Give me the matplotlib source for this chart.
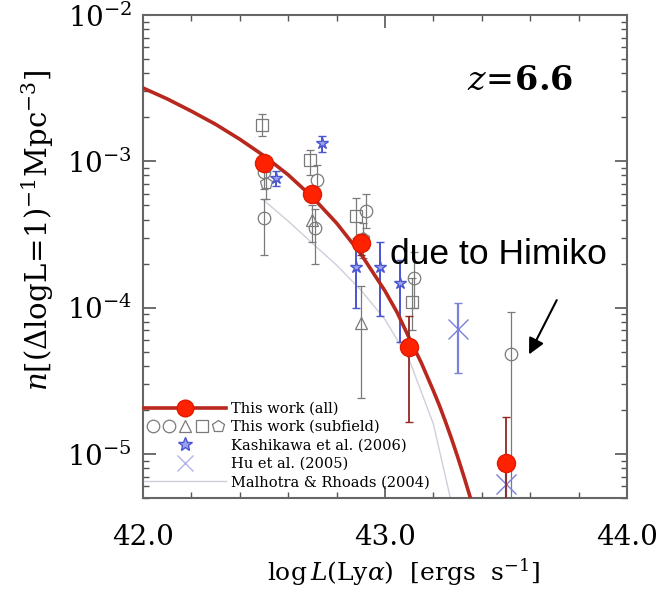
import numpy as np
import matplotlib.pyplot as plt
from matplotlib.legend_handler import HandlerTuple
from matplotlib.lines import Line2D
from matplotlib.ticker import MultipleLocator, FixedLocator, LogLocator, NullFormatter, FormatStrFormatter

plt.rcParams['font.family'] = 'DejaVu Serif'
plt.rcParams['mathtext.fontset'] = 'dejavuserif'

# --- this work (all), red points ---
all_x = [42.5, 42.7, 42.9, 43.1, 43.5]
all_y = [9.7e-4, 6.0e-4, 2.75e-4, 5.4e-5, 8.7e-6]
all_lo = [8.7e-4, 5.3e-4, 2.3e-4, 1.66e-5, 1e-7]
all_hi = [1.08e-3, 6.8e-4, 3.2e-4, 8.7e-5, 1.8e-5]

# schechter fit
fit_x = [42.0, 42.1, 42.2, 42.3, 42.4, 42.5, 42.6, 42.7, 42.8, 42.9, 43.0,
         43.05, 43.1, 43.15, 43.2, 43.225, 43.25, 43.275, 43.3, 43.325, 43.35, 43.375, 43.4]
fit_y = [3.17e-3, 2.67e-3, 2.2e-3, 1.79e-3, 1.415e-3, 1.09e-3, 8.08e-4, 5.69e-4,
         3.78e-4, 2.33e-4, 1.30e-4, 9.28e-5, 6.2e-5, 4.2e-5, 2.7e-5, 2.14e-5,
         1.66e-5, 1.27e-5, 9.57e-6, 7.1e-6, 5.2e-6, 3.73e-6, 2.64e-6]

# --- this work (subfields), gray open symbols ---
circ_x = [42.50, 42.50, 42.72, 42.71, 42.92, 43.12, 43.52]
circ_y = [8.5e-4, 4.1e-4, 7.4e-4, 3.5e-4, 4.6e-4, 1.6e-4, 4.8e-5]
circ_lo = [6.5e-4, 2.3e-4, 5.8e-4, 2.0e-4, 3.5e-4, 1.0e-4, 1e-7]
circ_hi = [1.05e-3, 5.5e-4, 9.4e-4, 4.7e-4, 6.0e-4, 2.4e-4, 9.3e-5]

sq_x = [42.49, 42.69, 42.88, 43.11]
sq_y = [1.78e-3, 1.02e-3, 4.2e-4, 1.1e-4]
sq_lo = [1.48e-3, 8.0e-4, 3.0e-4, 7.0e-5]
sq_hi = [2.1e-3, 1.2e-3, 5.6e-4, 1.6e-4]

tri_x = [42.70, 42.90]
tri_y = [4.0e-4, 7.9e-5]
tri_lo = [2.8e-4, 2.4e-5]
tri_hi = [5.0e-4, 1.4e-4]

pent_x = [42.51, 42.91]
pent_y = [7.1e-4, 3.0e-4]
pent_lo = [5.5e-4, 2.2e-4]
pent_hi = [8.5e-4, 3.8e-4]

# --- Kashikawa et al. (2006) ---
kas_x = [42.55, 42.74, 42.88, 42.98, 43.06]
kas_y = [7.7e-4, 1.33e-3, 1.9e-4, 1.9e-4, 1.48e-4]
kas_lo = [6.8e-4, 1.15e-3, 1.0e-4, 8.7e-5, 5.8e-5]
kas_hi = [8.6e-4, 1.5e-3, 2.8e-4, 2.8e-4, 2.1e-4]

# --- Hu et al. (2005) ---
hu_x = [43.30, 43.50]
hu_y = [7.1e-5, 6.2e-6]
hu_lo = [3.55e-5, 1e-7]
hu_hi = [1.07e-4, 8.0e-6]

# --- Malhotra & Rhoads (2004) ---
mr_x = [42.5, 42.6, 42.7, 42.8, 42.9, 43.0, 43.1, 43.2, 43.27, 43.3]
mr_y = [5.4e-4, 3.9e-4, 2.75e-4, 1.95e-4, 1.32e-4, 8.3e-5, 4.4e-5, 1.6e-5, 5.0e-6, 2.5e-6]


def yerr(y, lo, hi):
    y = np.array(y); return [y - np.array(lo), np.array(hi) - y]


fig = plt.figure(figsize=(6.67, 5.9), dpi=100)
ax = fig.add_axes([0.2144, 0.156, 0.7256, 0.8186])

gray = '#7a7a7a'
ekw = dict(ecolor=gray, elinewidth=0.9, capsize=3, capthick=0.9, linestyle='none')
mkw = dict(mfc='none', mec=gray, mew=0.9, markersize=9)

ax.plot(mr_x, mr_y, color='#cfcfdc', lw=1.0, zorder=1)

ax.errorbar(circ_x, circ_y, yerr=yerr(circ_y, circ_lo, circ_hi), marker='o', **ekw, **mkw)
ax.errorbar(sq_x, sq_y, yerr=yerr(sq_y, sq_lo, sq_hi), marker='s', **ekw, **mkw)
ax.errorbar(tri_x, tri_y, yerr=yerr(tri_y, tri_lo, tri_hi), marker='^', **ekw, **mkw)
ax.errorbar(pent_x, pent_y, yerr=yerr(pent_y, pent_lo, pent_hi), marker='p', **ekw, **mkw)

blue = '#4a55d0'
ax.errorbar(kas_x, kas_y, yerr=yerr(kas_y, kas_lo, kas_hi), marker='*', linestyle='none',
            color=blue, mfc='#9aa2ee', mec=blue, markersize=9, elinewidth=1.4, capsize=3)
ax.errorbar(hu_x, hu_y, yerr=yerr(hu_y, hu_lo, hu_hi), marker='x', linestyle='none',
            color='#7b80dc', markersize=14, mew=1.0, elinewidth=1.6, capsize=3)

ax.plot(fit_x, fit_y, color='#b8281e', lw=2.6, zorder=5)
ax.errorbar(all_x, all_y, yerr=yerr(all_y, all_lo, all_hi), marker='o', linestyle='none',
            color='#ff2200', mec='#e01a00', markersize=13, ecolor='#8e2a22',
            elinewidth=1.3, capsize=3, zorder=6)

ax.set_xlim(42.0, 44.0)
ax.set_yscale('log')
ax.set_ylim(5.0e-6, 1e-2)

ax.xaxis.set_major_locator(FixedLocator([42.0, 43.0, 44.0]))
ax.xaxis.set_minor_locator(MultipleLocator(0.2))
ax.xaxis.set_major_formatter(FormatStrFormatter('%.1f'))
ax.yaxis.set_major_locator(LogLocator(base=10))
ax.yaxis.set_minor_locator(LogLocator(base=10, subs=np.arange(2, 10)))
ax.yaxis.set_minor_formatter(NullFormatter())
ax.tick_params(which='both', direction='in', top=True, right=True, color='#555555')
ax.tick_params(which='major', length=9, width=1.2, labelsize=20)
ax.tick_params(axis='x', which='major', pad=19)
ax.tick_params(axis='y', which='major', pad=8)
ax.tick_params(which='minor', length=4.5, width=1.0)
for s in ax.spines.values():
    s.set_color('#666666')
    s.set_linewidth(1.5)

ax.set_xlabel(r'$\log L(\mathrm{Ly}\alpha)\ \ [\mathrm{ergs\ \ s}^{-1}]$', fontsize=18)
ax.xaxis.set_label_coords(0.537, -0.122)
ax.set_ylabel(r'$n[(\Delta\mathrm{logL}\!=\!1)^{-1}\mathrm{Mpc}^{-3}]$', fontsize=21)
ax.yaxis.set_label_coords(-0.18, 0.555)

ax.text(0.89, 0.863, r'$z\!=\!\mathbf{6.6}$', transform=ax.transAxes, fontsize=24,
        ha='right', va='center')

ax.text(43.02, 2.0e-4, 'due to Himiko', family='Liberation Sans', fontsize=25.5,
        ha='left', va='baseline', zorder=7)
ax.annotate('', xy=(43.59, 4.6e-5), xytext=(43.715, 1.17e-4),
            arrowprops=dict(arrowstyle='-|>', color='black', lw=1.5, mutation_scale=24))

h_all = Line2D([], [], color='#b8281e', lw=2.6, marker='o', markersize=12,
               mfc='#ff2200', mec='#e01a00')
h_sub = tuple(Line2D([], [], linestyle='none', marker=m, **mkw)
              for m in ['o', 'o', '^', 's', 'p'])
h_kas = Line2D([], [], linestyle='none', marker='*', markersize=10, mfc='#9aa2ee', mec=blue)
h_hu = Line2D([], [], linestyle='none', marker='x', markersize=11, color='#b0b4e8', mew=1.0)
h_mr = Line2D([], [], color='#cfcfdc', lw=1.0)
leg = ax.legend([h_all, h_sub, h_kas, h_hu, h_mr],
                ['This work (all)', 'This work (subfield)', 'Kashikawa et al. (2006)',
                 'Hu et al. (2005)', 'Malhotra & Rhoads (2004)'],
                handler_map={tuple: HandlerTuple(ndivide=None, pad=0)},
                loc='lower left', bbox_to_anchor=(-0.015, 0.0), frameon=False,
                fontsize=10.5, labelspacing=0.3, handlelength=5.6, handletextpad=0.35,
                borderaxespad=0.2)

fig.savefig('out.png', dpi=100)
